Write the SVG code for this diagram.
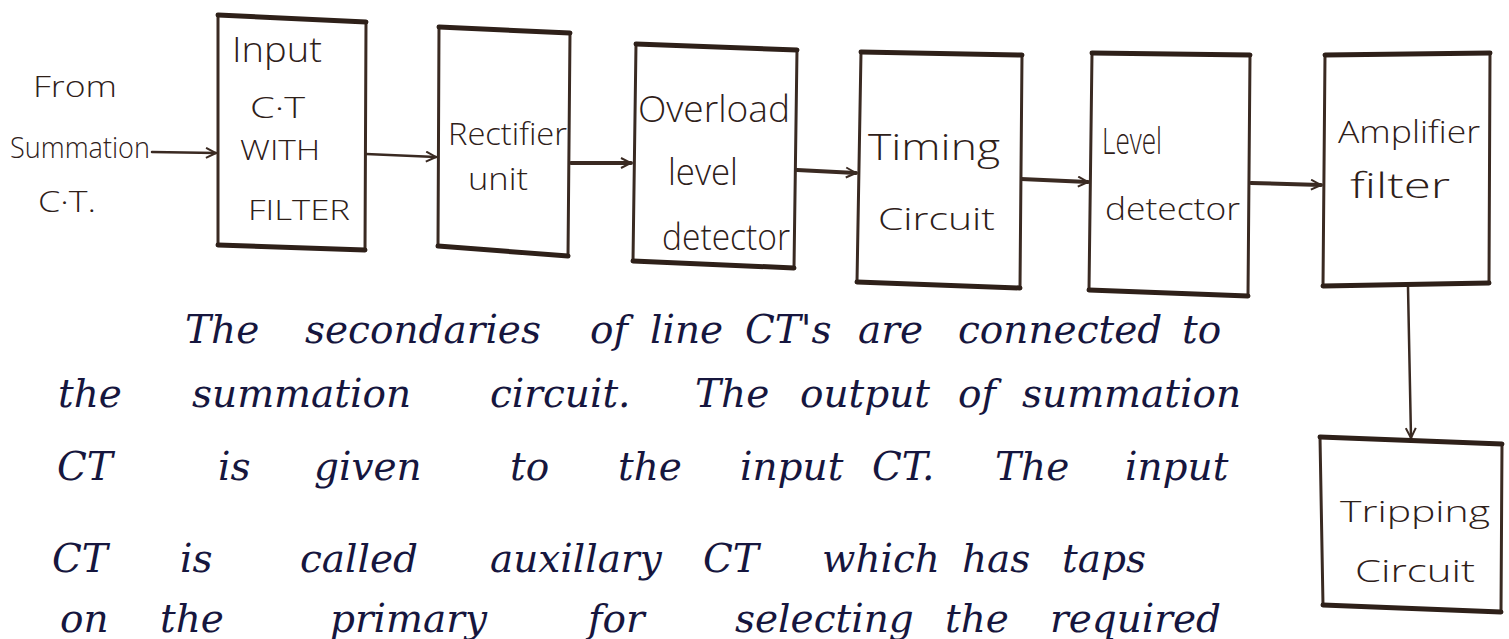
<svg xmlns="http://www.w3.org/2000/svg" width="1509" height="639" viewBox="0 0 1509 639">
  <style>
    .box { fill: #ffffff; stroke: #3a2a22; stroke-width: 3; stroke-linejoin: round; }
    .edge { fill: none; stroke: #2e2019; stroke-width: 5; stroke-linecap: round; }
    .wire { fill: none; stroke: #3a2a22; stroke-width: 2.5; stroke-linecap: round; }
    .thick { stroke-width: 4; }
    .lbl { font-family: "Open Sans", "DejaVu Sans", sans-serif; font-weight: 300; fill: #2e2019; }
    .hand { font-family: "DejaVu Serif", "Liberation Serif", serif; font-style: italic; font-size: 39px; fill: #16163e; }
  </style>
  <defs>
    <marker id="arrow" viewBox="0 0 12 12" refX="11" refY="6" markerWidth="12" markerHeight="12" markerUnits="userSpaceOnUse" orient="auto">
      <path d="M1,1 L11,6 L1,11" fill="none" stroke="#3a2a22" stroke-width="2"/>
    </marker>
  </defs>

  <rect width="1509" height="639" fill="#ffffff"/>

  <!-- connectors -->
  <g id="connectors">
    <line class="wire" x1="152" y1="152" x2="216" y2="153" marker-end="url(#arrow)"/>
    <line class="wire" x1="366" y1="154" x2="436" y2="157" marker-end="url(#arrow)"/>
    <line class="wire thick" x1="571" y1="163" x2="631" y2="163" marker-end="url(#arrow)"/>
    <line class="wire thick" x1="797" y1="170" x2="856" y2="173" marker-end="url(#arrow)"/>
    <line class="wire thick" x1="1021" y1="179" x2="1088" y2="182" marker-end="url(#arrow)"/>
    <line class="wire thick" x1="1251" y1="183" x2="1321" y2="185" marker-end="url(#arrow)"/>
    <line class="wire" x1="1408" y1="287" x2="1411" y2="438" marker-end="url(#arrow)"/>
  </g>

  <!-- source label -->
  <g id="source">
    <text class="lbl" x="33" y="97" font-size="30" textLength="84" lengthAdjust="spacingAndGlyphs">From</text>
    <text class="lbl" x="10" y="158" font-size="30" textLength="140" lengthAdjust="spacingAndGlyphs">Summation</text>
    <text class="lbl" x="38" y="212" font-size="30" textLength="58" lengthAdjust="spacingAndGlyphs">C·T.</text>
  </g>

  <g id="input-ct">
    <path class="box" d="M218,15 L366,22 L365,250 L218,245 Z"/>
    <path class="edge" d="M218,15 L366,22 M218,245 L365,250"/>
    <text class="lbl" x="232" y="62" font-size="34" textLength="90" lengthAdjust="spacingAndGlyphs">Input</text>
    <text class="lbl" x="250" y="118" font-size="30" textLength="55" lengthAdjust="spacingAndGlyphs">C·T</text>
    <text class="lbl" x="240" y="160" font-size="28" textLength="80" lengthAdjust="spacingAndGlyphs">WITH</text>
    <text class="lbl" x="248" y="220" font-size="28" textLength="102" lengthAdjust="spacingAndGlyphs">FILTER</text>
  </g>

  <g id="rectifier">
    <path class="box" d="M439,27 L570,33 L568,256 L438,246 Z"/>
    <path class="edge" d="M439,27 L570,33 M438,246 L568,256"/>
    <text class="lbl" x="448" y="145" font-size="32" textLength="119" lengthAdjust="spacingAndGlyphs">Rectifier</text>
    <text class="lbl" x="468" y="190" font-size="32" textLength="60" lengthAdjust="spacingAndGlyphs">unit</text>
  </g>

  <g id="overload">
    <path class="box" d="M636,44 L797,50 L794,268 L633,261 Z"/>
    <path class="edge" d="M636,44 L797,50 M633,261 L794,268"/>
    <text class="lbl" x="638" y="122" font-size="36" textLength="152" lengthAdjust="spacingAndGlyphs">Overload</text>
    <text class="lbl" x="668" y="185" font-size="36" textLength="70" lengthAdjust="spacingAndGlyphs">level</text>
    <text class="lbl" x="662" y="250" font-size="36" textLength="128" lengthAdjust="spacingAndGlyphs">detector</text>
  </g>

  <g id="timing">
    <path class="box" d="M861,52 L1022,55 L1020,288 L857,282 Z"/>
    <path class="edge" d="M861,52 L1022,55 M857,282 L1020,288"/>
    <text class="lbl" x="868" y="160" font-size="36" textLength="132" lengthAdjust="spacingAndGlyphs">Timing</text>
    <text class="lbl" x="878" y="230" font-size="32" textLength="117" lengthAdjust="spacingAndGlyphs">Circuit</text>
  </g>

  <g id="level-detector">
    <path class="box" d="M1092,53 L1250,55 L1248,296 L1089,290 Z"/>
    <path class="edge" d="M1092,53 L1250,55 M1089,290 L1248,296"/>
    <text class="lbl" x="1102" y="154" font-size="36" textLength="60" lengthAdjust="spacingAndGlyphs">Level</text>
    <text class="lbl" x="1105" y="220" font-size="32" textLength="135" lengthAdjust="spacingAndGlyphs">detector</text>
  </g>

  <g id="amplifier">
    <path class="box" d="M1325,55 L1490,53 L1489,283 L1323,286 Z"/>
    <path class="edge" d="M1325,55 L1490,53 M1323,286 L1489,283"/>
    <text class="lbl" x="1338" y="143" font-size="32" textLength="142" lengthAdjust="spacingAndGlyphs">Amplifier</text>
    <text class="lbl" x="1350" y="198" font-size="34" textLength="100" lengthAdjust="spacingAndGlyphs">filter</text>
  </g>

  <g id="tripping">
    <path class="box" d="M1320,437 L1502,444 L1501,612 L1323,605 Z"/>
    <path class="edge" d="M1320,437 L1502,444 M1323,605 L1501,612"/>
    <text class="lbl" x="1340" y="522" font-size="30" textLength="150" lengthAdjust="spacingAndGlyphs">Tripping</text>
    <text class="lbl" x="1355" y="582" font-size="32" textLength="120" lengthAdjust="spacingAndGlyphs">Circuit</text>
  </g>

  <!-- explanatory notes below the chain -->
  <g id="notes" class="hand">
    <text y="343"><tspan x="185">The</tspan><tspan x="305">secondaries</tspan><tspan x="590">of</tspan><tspan x="650">line</tspan><tspan x="745">CT's</tspan><tspan x="858">are</tspan><tspan x="958">connected</tspan><tspan x="1182">to</tspan></text>
    <text y="407"><tspan x="58">the</tspan><tspan x="192">summation</tspan><tspan x="490">circuit.</tspan><tspan x="695">The</tspan><tspan x="800">output</tspan><tspan x="958">of</tspan><tspan x="1022">summation</tspan></text>
    <text y="480"><tspan x="57">CT</tspan><tspan x="218">is</tspan><tspan x="314">given</tspan><tspan x="510">to</tspan><tspan x="618">the</tspan><tspan x="740">input</tspan><tspan x="872">CT.</tspan><tspan x="995">The</tspan><tspan x="1125">input</tspan></text>
    <text y="572"><tspan x="52">CT</tspan><tspan x="180">is</tspan><tspan x="300">called</tspan><tspan x="490">auxillary</tspan><tspan x="703">CT</tspan><tspan x="822">which</tspan><tspan x="962">has</tspan><tspan x="1062">taps</tspan></text>
    <text y="632"><tspan x="60">on</tspan><tspan x="160">the</tspan><tspan x="330">primary</tspan><tspan x="588">for</tspan><tspan x="735">selecting</tspan><tspan x="945">the</tspan><tspan x="1050">required</tspan></text>
  </g>
</svg>
